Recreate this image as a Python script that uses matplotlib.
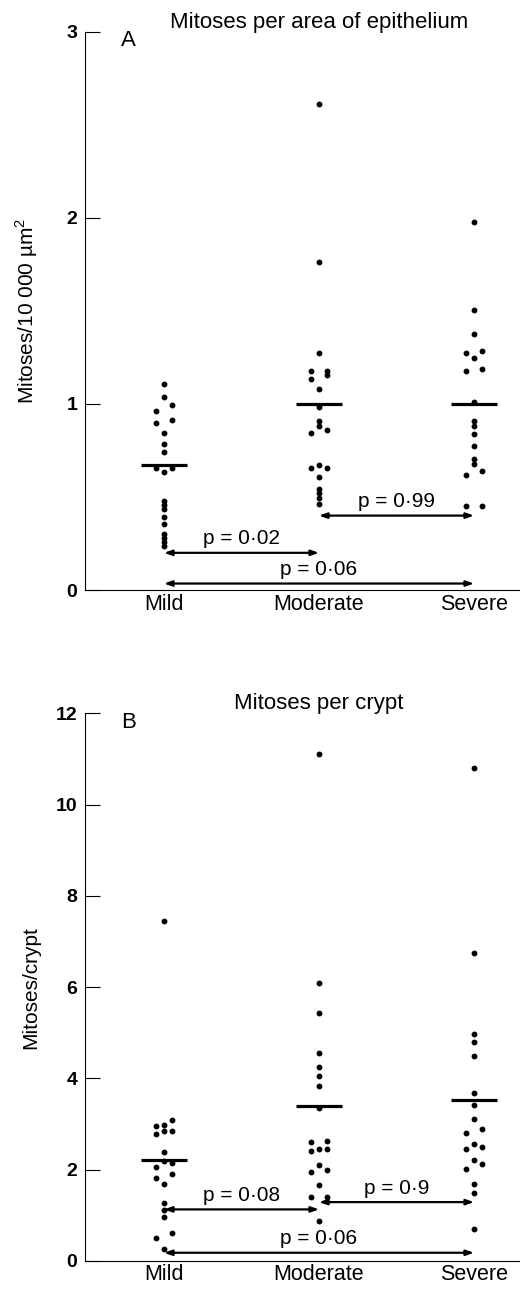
import matplotlib

matplotlib.use("Agg")
import matplotlib.pyplot as plt

plt.rcParams["font.family"] = ["Liberation Sans", "DejaVu Sans"]

CATEGORIES = ["Mild", "Moderate", "Severe"]

# Panel A: mitoses per 10 000 um^2 of epithelium
MILD_A = [1.107, 1.039, 0.993, 0.963, 0.913, 0.900, 0.843, 0.786, 0.743, 0.654, 0.654,
          0.636, 0.480, 0.458, 0.435, 0.394, 0.355, 0.301, 0.280, 0.257, 0.234]
MOD_A = [2.61, 1.763, 1.276, 1.178, 1.178, 1.153, 1.132, 1.080, 0.985, 0.910, 0.880,
         0.858, 0.845, 0.672, 0.658, 0.658, 0.608, 0.542, 0.521, 0.497, 0.462]
SEV_A = [1.977, 1.505, 1.374, 1.287, 1.276, 1.246, 1.189, 1.175, 1.01, 0.907, 0.884,
         0.840, 0.772, 0.702, 0.679, 0.640, 0.619, 0.449, 0.449]
MEDIAN_A = [0.67, 1.0, 1.0]

# Panel B: mitoses per crypt
MILD_B = [7.46, 3.10, 2.99, 2.95, 2.84, 2.84, 2.78, 2.38, 2.20, 2.14, 2.05, 1.91, 1.81,
          1.69, 1.28, 1.12, 0.97, 0.62, 0.51, 0.26]
MOD_B = [11.11, 6.09, 5.43, 4.55, 4.24, 4.05, 3.84, 3.36, 2.64, 2.60, 2.46, 2.46, 2.42,
         2.10, 2.00, 1.94, 1.67, 1.40, 1.40, 0.88]
SEV_B = [10.80, 6.74, 4.98, 4.80, 4.50, 3.67, 3.42, 3.12, 2.90, 2.80, 2.57, 2.50, 2.46,
         2.22, 2.12, 2.01, 1.68, 1.50, 0.70]
MEDIAN_B = [2.22, 3.40, 3.53]

# side of the column each dot sits on (-1 left, 0 centre, 1 right)
MILD_A_SIDE = [0, 0, 1, -1, 1, -1, 0, 0, 0, -1, 1, 0, 0, 0, 0, 0, 0, 0, 0, 0, 0]
MOD_A_SIDE = [0, 0, 0, -1, 1, 1, -1, 0, 0, 0, 0, 1, -1, 0, -1, 1, 0, 0, 0, 0, 0]
SEV_A_SIDE = [0, 0, 0, 1, -1, 0, 1, -1, 0, 0, 0, 0, 0, 0, 0, 1, -1, -1, 1]
MILD_B_SIDE = [0, 1, 0, -1, 0, 1, -1, 0, 0, 1, -1, 1, -1, 0, 0, 0, 0, 1, -1, 0]
MOD_B_SIDE = [0, 0, 0, 0, 0, 0, 0, 0, 1, -1, 0, 1, -1, 0, 1, -1, 0, -1, 1, 0]
SEV_B_SIDE = [0, 0, 0, 0, 0, 0, 0, 0, 1, -1, 0, 1, -1, 0, 1, -1, 0, 0, 0]

# comparisons: (from group, to group, y level, label)
COMP_A = [(1, 2, 0.20, "p = 0·02"), (2, 3, 0.40, "p = 0·99"), (1, 3, 0.035, "p = 0·06")]
COMP_B = [(1, 2, 1.13, "p = 0·08"), (2, 3, 1.29, "p = 0·9"), (1, 3, 0.18, "p = 0·06")]

FS = 15
JITTER = 0.05


def draw_panel(ax, groups, sides, medians, comps, ymax, yticks, ylabel, title, letter):
    for i, (vals, side) in enumerate(zip(groups, sides)):
        xc = i + 1
        xs = [xc + s * JITTER for s in side]
        ax.plot(xs, vals, "o", color="black", markersize=3.2, linestyle="none")
        ax.plot([xc - 0.15, xc + 0.15], [medians[i]] * 2, color="black", linewidth=2.3,
                solid_capstyle="butt")
    for a, b, y, label in comps:
        ax.annotate("", xy=(b, y), xytext=(a, y),
                    arrowprops=dict(arrowstyle="<|-|>,head_length=0.45,head_width=0.16",
                                    color="black", linewidth=1.6, shrinkA=0, shrinkB=0))
        ax.annotate(label, xy=((a + b) / 2, y), xytext=(0, 6), textcoords="offset points",
                    ha="center", va="baseline", fontsize=FS)
    ax.set_xlim(0.4936, 3.2967)
    ax.set_ylim(0, ymax)
    ax.set_yticks(yticks)
    ax.set_yticklabels([str(t) for t in yticks], fontweight="bold", fontsize=14)
    ax.set_xticks([1, 2, 3])
    ax.set_xticklabels(CATEGORIES, fontsize=15.5)
    ax.tick_params(axis="x", length=0, pad=2.5)
    ax.tick_params(axis="y", direction="in", length=11, width=0.8, pad=6)
    for spine in ["top", "right"]:
        ax.spines[spine].set_visible(False)
    for spine in ["left", "bottom"]:
        ax.spines[spine].set_linewidth(0.8)
    ax.set_ylabel(ylabel, fontsize=FS)
    ax.yaxis.set_label_coords(-0.105, 0.5)
    ax.annotate(title, xy=(2.0, 1.0), xycoords=("data", "axes fraction"), xytext=(0, 3),
                textcoords="offset points", ha="center", va="baseline", fontsize=16)
    ax.annotate(letter, xy=(0.77, 1.0), xycoords=("data", "axes fraction"), xytext=(0, 1),
                textcoords="offset points", ha="center", va="top", fontsize=16)


def main() -> None:
    fig = plt.figure(figsize=(5.2, 12.9), dpi=100)
    ax_a = fig.add_axes([0.1644, 0.5426, 0.8356, 0.4328])
    ax_b = fig.add_axes([0.1644, 0.0225, 0.8356, 0.4245])
    draw_panel(ax_a, [MILD_A, MOD_A, SEV_A], [MILD_A_SIDE, MOD_A_SIDE, SEV_A_SIDE],
               MEDIAN_A, COMP_A, 3, [0, 1, 2, 3],
               "Mitoses/10 000 µm" + r"$^\mathregular{2}$",
               "Mitoses per area of epithelium", "A")
    draw_panel(ax_b, [MILD_B, MOD_B, SEV_B], [MILD_B_SIDE, MOD_B_SIDE, SEV_B_SIDE],
               MEDIAN_B, COMP_B, 12, [0, 2, 4, 6, 8, 10, 12],
               "Mitoses/crypt", "Mitoses per crypt", "B")
    fig.savefig("out.png", dpi=100)


if __name__ == "__main__":
    main()
